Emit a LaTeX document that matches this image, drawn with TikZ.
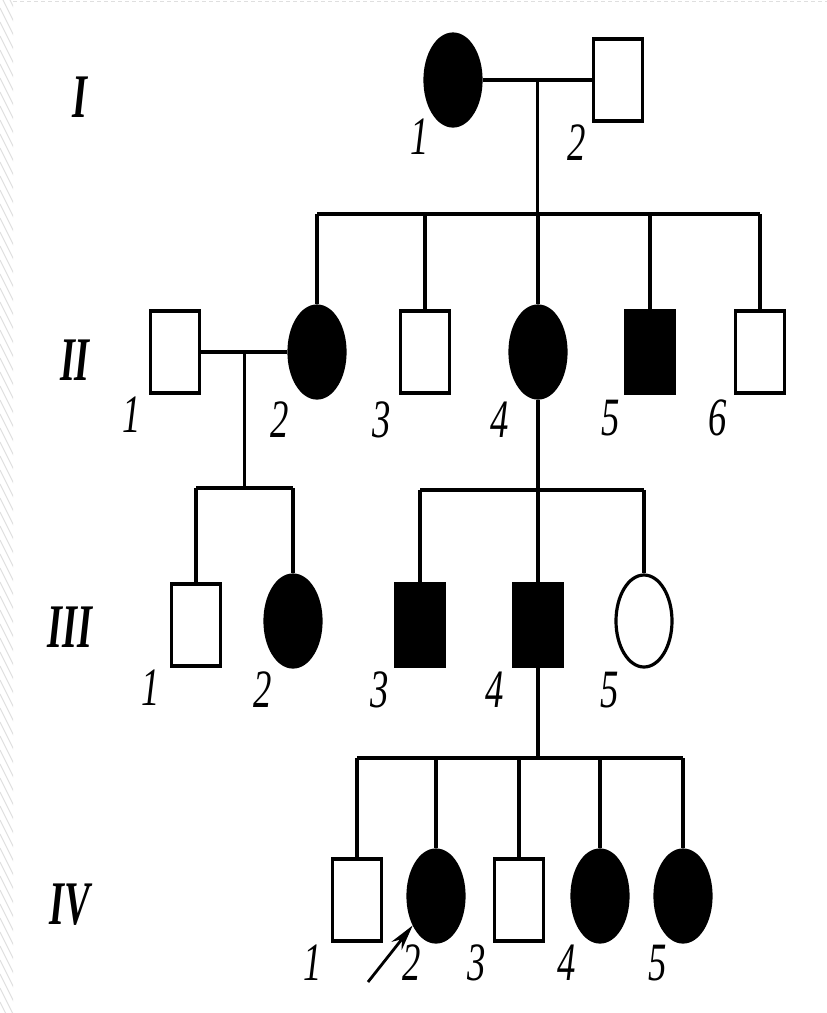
\documentclass[tikz,border=0pt]{standalone}
\usepackage{fontspec}
\setmainfont{Liberation Serif}
\usetikzlibrary{calc, shapes.geometric, arrows.meta}

\newcommand{\pednum}[1]{\scalebox{0.68}[1]{\fontsize{54}{54}\selectfont\itshape #1}}
\newcommand{\gennum}[1]{\scalebox{0.62}[1]{\fontsize{62}{62}\selectfont\bfseries\itshape #1}}

\begin{document}
\begin{tikzpicture}[x=1pt, y=-1pt, line width=3.2pt,
  male/.style={draw, rectangle, minimum width=49pt, minimum height=82pt, inner sep=0pt},
  female/.style={draw, ellipse, minimum width=56pt, minimum height=92pt, inner sep=0pt},
  sick/.style={fill=black},
  idnum/.style={inner sep=0pt}]
  \useasboundingbox (0,0) rectangle (827,1013);

  % Faint slide frame on the left and top
  \begin{scope}
    \clip (0,0) rectangle (13,1013);
    \foreach \y in {-20,-6,...,1013}
      \draw[gray!25, line width=1pt] (0,\y) -- (14,\y+28);
  \end{scope}
  \draw[gray!25, line width=1.5pt, dash pattern=on 4pt off 3pt] (13,1.5) -- (827,1.5);

  % Generation labels
  \node[idnum] (gI) at (80,97) {\gennum{I}};
  \node[idnum] (gII) at (75,360) {\gennum{II}};
  \node[idnum] (gIII) at (70,627) {\gennum{III}};
  \node[idnum] (gIV) at (70,905) {\gennum{IV}};

  % Generation I
  \node[female, sick] (I1) at (453,80) {};
  \node[male] (I2) at (618,80) {};
  \draw (I1) -- (I2);
  \coordinate (m1) at ($(I1.east)!0.5!(I2.west)$);
  \coordinate (s1) at ($(m1)+(0,134)$);
  \draw (m1) -- (s1);

  % Generation II
  \node[male] (II1) at (175,352) {};
  \node[female, sick] (II2) at (317,352) {};
  \node[male] (II3) at (425,352) {};
  \node[female, sick] (II4) at (538,352) {};
  \node[male, sick] (II5) at (650,352) {};
  \node[male] (II6) at (760,352) {};
  \draw (II2 |- s1) -- (II6 |- s1);
  \foreach \c in {II2,II3,II4,II5,II6}
    \draw (\c |- s1) -- (\c);

  % Couple II-1 and II-2
  \draw (II1) -- (II2);
  \coordinate (m2) at ($(II1.east)!0.5!(II2.west)$);
  \coordinate (s2) at ($(m2)+(0,136)$);
  \draw (m2) -- (s2);

  % Generation III
  \node[male] (III1) at (196,625) {};
  \node[female, sick] (III2) at (293,621) {};
  \node[male, sick] (III3) at (420,625) {};
  \node[male, sick] (III4) at (538,625) {};
  \node[female] (III5) at (644,621) {};
  \draw (III1 |- s2) -- (III2 |- s2);
  \foreach \c in {III1,III2}
    \draw (\c |- s2) -- (\c);

  % Children of II-4
  \coordinate (s3) at ($(II4)+(0,138)$);
  \draw (II4) -- (s3);
  \draw (III3 |- s3) -- (III5 |- s3);
  \foreach \c in {III3,III4,III5}
    \draw (\c |- s3) -- (\c);

  % Generation IV
  \node[male] (IV1) at (357,900) {};
  \node[female, sick] (IV2) at (436,896) {};
  \node[male] (IV3) at (519,900) {};
  \node[female, sick] (IV4) at (600,896) {};
  \node[female, sick] (IV5) at (683,896) {};
  \coordinate (s4) at ($(III4)+(0,133)$);
  \draw (III4) -- (s4);
  \draw (IV1 |- s4) -- (IV5 |- s4);
  \foreach \c in {IV1,IV2,IV3,IV4,IV5}
    \draw (\c |- s4) -- (\c);

  % Proband arrow
  \coordinate (a0) at (368,982);
  \draw[-{Stealth[length=26pt, width=13pt]}, line width=2.8pt] (a0) -- (IV2);

  % Individual numbers
  \node[idnum] (nI1) at (420,137) {\pednum{1}};
  \node[idnum] (nI2) at (577,143) {\pednum{2}};
  \node[idnum] (nII1) at (132,415) {\pednum{1}};
  \node[idnum] (nII2) at (280,420) {\pednum{2}};
  \node[idnum] (nII3) at (382,420) {\pednum{3}};
  \node[idnum] (nII4) at (500,420) {\pednum{4}};
  \node[idnum] (nII5) at (611,418) {\pednum{5}};
  \node[idnum] (nII6) at (718,418) {\pednum{6}};
  \node[idnum] (nIII1) at (151,688) {\pednum{1}};
  \node[idnum] (nIII2) at (263,690) {\pednum{2}};
  \node[idnum] (nIII3) at (380,690) {\pednum{3}};
  \node[idnum] (nIII4) at (495,690) {\pednum{4}};
  \node[idnum] (nIII5) at (610,690) {\pednum{5}};
  \node[idnum] (nIV1) at (313,963) {\pednum{1}};
  \node[idnum] (nIV2) at (412,963) {\pednum{2}};
  \node[idnum] (nIV3) at (477,963) {\pednum{3}};
  \node[idnum] (nIV4) at (567,963) {\pednum{4}};
  \node[idnum] (nIV5) at (658,963) {\pednum{5}};
\end{tikzpicture}
\end{document}
